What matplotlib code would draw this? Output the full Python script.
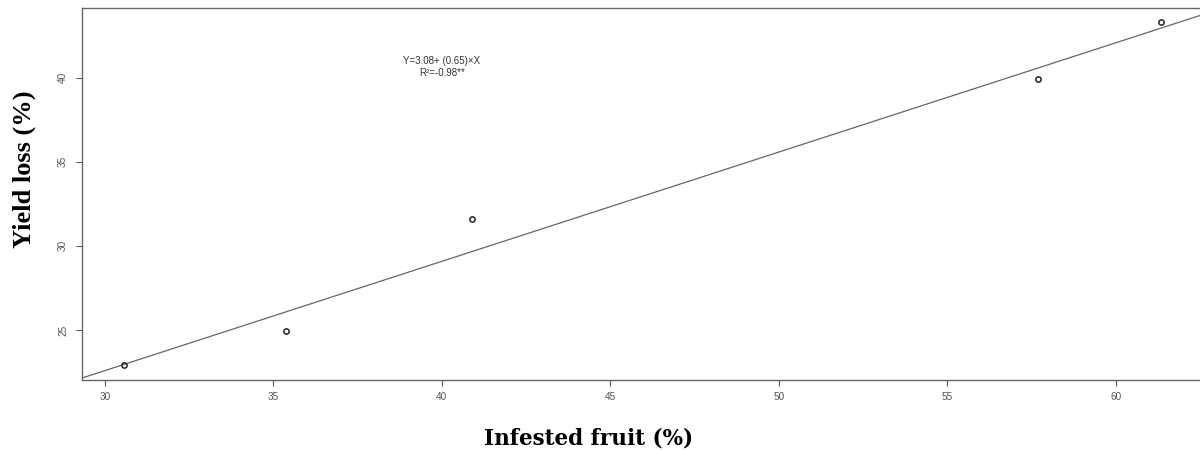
import matplotlib
matplotlib.use("Agg")
import matplotlib.pyplot as plt
import numpy as np

# Data
infested_fruit = [30.57, 35.36, 40.90, 57.69, 61.33]
yield_loss = [22.90, 24.94, 31.59, 39.90, 43.30]
intercept = 3.08
slope = 0.65
x_ticks = [30, 35, 40, 45, 50, 55, 60]
y_ticks = [25, 30, 35, 40]
equation_text = "Y=3.08+ (0.65)×X"
r2_text = "R²=-0.98**"
x_label = "Infested fruit (%)"
y_label = "Yield loss (%)"

fig = plt.figure(figsize=(12, 4.5), dpi=100)
ax = fig.add_axes([82 / 1200, 1 - 380 / 450, 1 - 82 / 1200, (380 - 8) / 450])

gray = "#555555"
ax.plot(infested_fruit, yield_loss, linestyle="none", marker="o", markersize=3.8,
        markerfacecolor="none", markeredgecolor="#222222", markeredgewidth=1.1, zorder=3)
ax.axline((0, intercept), slope=slope, color="#666666", linewidth=0.9, zorder=2)

ax.set_xlim(29.32, 62.5)
ax.set_ylim(22.02, 44.15)
ax.set_xticks(x_ticks)
ax.set_yticks(y_ticks)
ax.set_xticklabels([str(t) for t in x_ticks], family="Liberation Sans", fontsize=7.2, color=gray)
ax.set_yticklabels([str(t) for t in y_ticks], family="Liberation Sans", fontsize=7.2, color=gray,
                   rotation=90, va="center")
ax.tick_params(axis="both", direction="out", length=4, width=0.8, color=gray)
ax.tick_params(axis="x", pad=5)
ax.tick_params(axis="y", pad=6)
for side in ["left", "bottom", "top"]:
    ax.spines[side].set_color("#666666")
    ax.spines[side].set_linewidth(1.0)
ax.spines["right"].set_visible(False)

ax.text(40.0, 41.0, equation_text, ha="center", va="center", family="Liberation Sans",
        fontsize=7, color="#333333")
ax.text(40.0, 40.3, r2_text, ha="center", va="center", family="Liberation Sans",
        fontsize=7, color="#333333")

fig.text(589 / 1200, 1 - 438 / 450, x_label, ha="center", va="center",
         family="DejaVu Serif", fontweight="bold", fontsize=15.5, color="black")
fig.text(24 / 1200, 1 - 169 / 450, y_label, ha="center", va="center", rotation=90,
         family="Liberation Serif", fontweight="bold", fontsize=19, color="black")

fig.savefig("out.png", dpi=100)
